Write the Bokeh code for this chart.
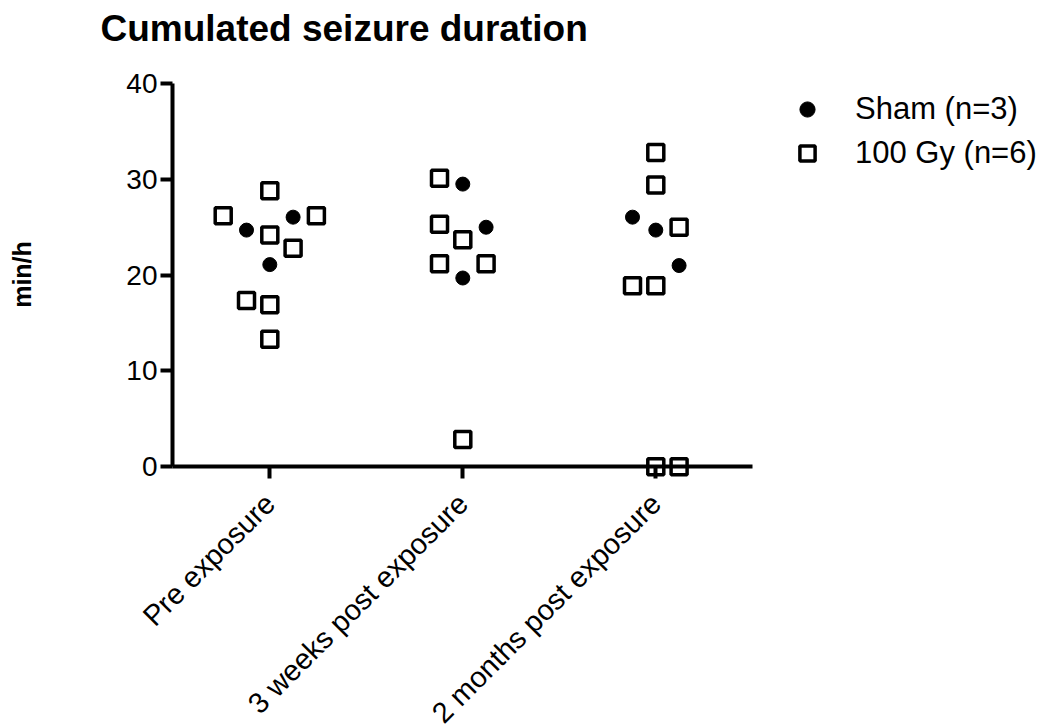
import math
from bokeh.plotting import figure
from bokeh.models import (Range1d, FixedTicker, Legend, LegendItem,
                          ColumnDataSource, Label)
from bokeh.embed import file_html
from bokeh.resources import INLINE

# ---- data ----
title_text = "Cumulated seizure duration"
y_label = "min/h"
categories = ["Pre exposure", "3 weeks post exposure", "2 months post exposure"]
y_ticks = [0, 10, 20, 30, 40]

sham_label = "Sham (n=3)"
sham_group = [0, 0, 0, 1, 1, 1, 2, 2, 2]
sham_values = [24.7, 26.05, 21.1, 29.5, 25.0, 19.7, 26.05, 24.7, 21.0]
sham_slot = [-1, 1, 0, 0, 1, 0, -1, 0, 1]

gy_label = "100 Gy (n=6)"
gy_group = [0, 0, 0, 0, 0, 0, 0, 0,
            1, 1, 1, 1, 1, 1,
            2, 2, 2, 2, 2, 2, 2]
gy_values = [28.8, 26.2, 26.2, 24.2, 22.8, 17.35, 16.9, 13.3,
             30.1, 25.3, 23.7, 21.2, 21.2, 2.85,
             32.8, 29.4, 25.0, 18.9, 18.9, 0.0, 0.0]
gy_slot = [0, -2, 2, 0, 1, -1, 0, 0,
           -1, -1, 0, -1, 1, 0,
           0, 0, 1, -1, 0, 0, 1]

# ---- layout constants (pixels) ----
W, H = 1044, 728
AXIS_LEFT_PX = 172                 # pixel column of the y axis
X0_PX, X_STEP = 269.3, 193.0       # pixel of category 0, pixels per category
Y0_PX, Y_STEP = 466.3, 9.583       # pixel of value 0, pixels per unit
SLOT = 0.1207
FONT = "Liberation Sans"


def dx(px):
    return (px - X0_PX) / X_STEP


def dy(py):
    return (Y0_PX - py) / Y_STEP


sham_src = ColumnDataSource(dict(
    x=[g + s * SLOT for g, s in zip(sham_group, sham_slot)], y=sham_values))
gy_src = ColumnDataSource(dict(
    x=[g + s * SLOT for g, s in zip(gy_group, gy_slot)], y=gy_values))

# the frame covers the whole canvas; the axes sit at fixed data locations
p = figure(width=W, height=H,
           x_range=Range1d(dx(0), dx(W)),
           y_range=Range1d(dy(H), dy(0)),
           output_backend="svg", toolbar_location=None,
           min_border_left=0, min_border_right=0,
           min_border_top=0, min_border_bottom=0)
p.outline_line_color = None
p.xgrid.visible = False
p.ygrid.visible = False
p.background_fill_color = "white"
p.border_fill_color = "white"

r_gy = p.scatter("x", "y", source=gy_src, marker="square", size=16,
                 fill_color=None, line_color="black", line_width=3.5)
r_sham = p.scatter("x", "y", source=sham_src, marker="circle", size=14,
                   fill_color="black", line_color="black", line_width=1)

# y axis
ya = p.yaxis[0]
ya.ticker = FixedTicker(ticks=y_ticks)
ya.fixed_location = dx(AXIS_LEFT_PX)
ya.bounds = (0, 40)
ya.axis_line_width = 4
ya.axis_line_color = "black"
ya.major_tick_line_width = 4
ya.major_tick_line_color = "black"
ya.major_tick_out = 12
ya.major_tick_in = 0
ya.minor_tick_line_color = None
ya.major_label_text_font = FONT
ya.major_label_text_font_size = "28px"
ya.major_label_text_color = "black"
ya.major_label_standoff = 3

# x axis drawn at y = 0
xa = p.xaxis[0]
xa.ticker = FixedTicker(ticks=[0, 1, 2])
xa.major_label_overrides = {i: c for i, c in enumerate(categories)}
xa.fixed_location = 0
xa.bounds = (dx(AXIS_LEFT_PX), 2.501)
xa.axis_line_width = 4
xa.axis_line_color = "black"
xa.major_tick_line_width = 4
xa.major_tick_line_color = "black"
xa.major_tick_out = 12
xa.major_tick_in = 0
xa.minor_tick_line_color = None
xa.major_label_orientation = math.pi / 4
xa.major_label_text_font = FONT
xa.major_label_text_font_size = "29px"
xa.major_label_text_color = "black"
xa.major_label_standoff = 20

# title and y-axis label
p.add_layout(Label(x=dx(100), y=dy(28), text=title_text,
                   text_font=FONT, text_font_size="37px",
                   text_font_style="bold", text_color="black",
                   text_align="left", text_baseline="alphabetic"))
p.add_layout(Label(x=dx(21), y=dy(274), text=y_label, angle=math.pi / 2,
                   text_font=FONT, text_font_size="25px",
                   text_font_style="bold", text_color="black",
                   text_align="center", text_baseline="alphabetic"))

legend = Legend(items=[LegendItem(label=sham_label, renderers=[r_sham]),
                       LegendItem(label=gy_label, renderers=[r_gy])],
                location=(788, H - 172))
legend.padding = 0
legend.margin = 0
legend.border_line_color = None
legend.background_fill_alpha = 0
legend.glyph_width = 38
legend.glyph_height = 38
legend.spacing = 6
legend.label_standoff = 29
legend.label_text_font = FONT
legend.label_text_font_size = "31px"
legend.label_text_color = "black"
legend.label_height = 38
p.add_layout(legend)

open("out.html", "w").write(file_html(p, INLINE))
